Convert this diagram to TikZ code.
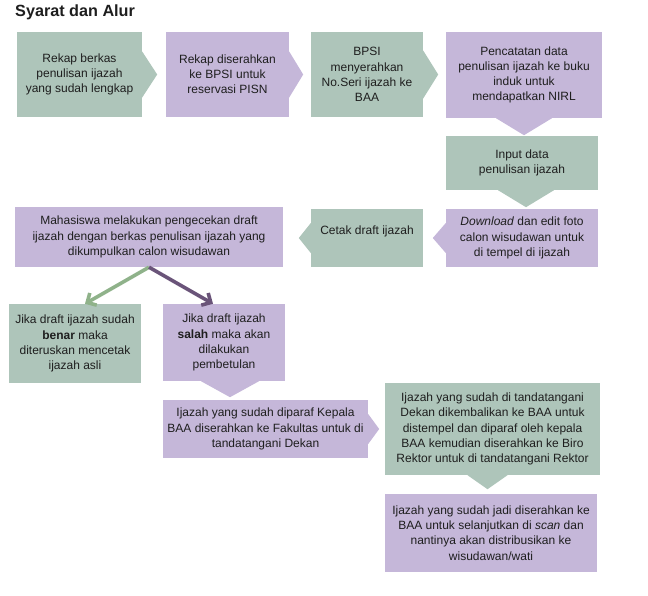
\documentclass[tikz,border=0pt]{standalone}
\usepackage{fontspec}
\setmainfont{Liberation Sans}
\usetikzlibrary{arrows.meta,positioning}
\definecolor{hijau}{HTML}{AEC5BA}
\definecolor{ungu}{HTML}{C5B7D9}
\definecolor{panahhijau}{HTML}{8FB28A}
\definecolor{panahungu}{HTML}{6A5479}
\definecolor{teks}{HTML}{1E1E1E}
\tikzstyle{kotak}=[inner sep=0pt,align=center,text=teks,font=\fontsize{12}{15.2}\selectfont]
\tikzstyle{langkahhijau}=[kotak,fill=hijau]
\tikzstyle{langkahungu}=[kotak,fill=ungu]
\tikzstyle{panah}=[line width=3.6pt,-{Straight Barb[length=7pt,width=14pt]}]

\begin{document}
\begin{tikzpicture}[x=1pt,y=-1pt]
            \useasboundingbox (0,0) rectangle (648,595);
            \node (judul) [anchor=base west,inner sep=0pt,font=\fontsize{16.2}{19}\selectfont\bfseries,text=teks] at (15,16) {Syarat dan Alur};

            % baris atas
            \node (rekap) [langkahhijau,minimum width=125,minimum height=85] at (79.5,74.5) {Rekap berkas\\penulisan ijazah\\yang sudah lengkap};
            \node (serah) [langkahungu,minimum width=123,minimum height=85] at (227.5,74.5) {Rekap diserahkan\\ke BPSI untuk\\reservasi PISN};
            \node (bpsi) [langkahhijau,minimum width=112,minimum height=85] at (367,74.5) {BPSI\\menyerahkan\\No.Seri ijazah ke\\BAA};
            \node (catat) [langkahungu,minimum width=156,minimum height=86] at (524,75) {Pencatatan data\\penulisan ijazah ke buku\\induk untuk\\mendapatkan NIRL};
            \fill[hijau] (rekap.east) ++(0,-23) -- ++(15,23) -- ++(-15,23) -- cycle;
            \fill[ungu] (serah.east) ++(0,-23) -- ++(14,23) -- ++(-14,23) -- cycle;
            \fill[hijau] (bpsi.east) ++(0,-24) -- ++(15,24) -- ++(-15,24) -- cycle;
            \fill[ungu] (catat.south) ++(-28,0) -- ++(28,17) -- ++(28,-17) -- cycle;

            % kolom kanan
            \node (input) [langkahhijau,minimum width=152,minimum height=54] at (522,163) {Input data\\penulisan ijazah};
            \node (unduh) [langkahungu,minimum width=152,minimum height=58] at (522,238) {\textit{Download} dan edit foto\\calon wisudawan untuk\\di tempel di ijazah};
            \fill[hijau] ([xshift=4pt]input.south) ++(-28,0) -- ++(28,17) -- ++(28,-17) -- cycle;
            \fill[ungu] (unduh.west) ++(0,-15) -- ++(-13,15) -- ++(13,15) -- cycle;

            % baris tengah
            \node (cetak) [langkahhijau,minimum width=112,minimum height=58] at (367,238) {Cetak draft ijazah\\ \mbox{}};
            \fill[hijau] (cetak.west) ++(0,-15) -- ++(-12,15) -- ++(12,15) -- cycle;
            \node (cek) [langkahungu,minimum width=268,minimum height=60] at (149,237) {Mahasiswa melakukan pengecekan draft\\ijazah dengan berkas penulisan ijazah yang\\dikumpulkan calon wisudawan};

            % hasil pengecekan
            \node (benar) [langkahhijau,minimum width=132,minimum height=79] at (75,343.5) {Jika draft ijazah sudah\\\textbf{benar} maka\\diteruskan mencetak\\ijazah asli};
            \node (salah) [langkahungu,minimum width=122,minimum height=77] at (224,342.5) {Jika draft ijazah\\\textbf{salah} maka akan\\dilakukan\\pembetulan};
            \fill[ungu] ([xshift=6pt]salah.south) ++(-29,0) -- ++(29,16) -- ++(29,-16) -- cycle;

            \draw[panah,draw=panahhijau] (cek.south) -- ([xshift=10pt]benar.north);
            \draw[panah,draw=panahungu] (cek.south) -- ([xshift=-11pt]salah.north);

            % tanda tangan
            \node (paraf) [langkahungu,minimum width=205,minimum height=58] at (265.5,429) {Ijazah yang sudah diparaf Kepala\\BAA diserahkan ke Fakultas untuk di\\tandatangani Dekan};
            \fill[ungu] (paraf.east) ++(0,-15) -- ++(11,15) -- ++(-11,15) -- cycle;
            \node (dekan) [langkahhijau,minimum width=215,minimum height=92] at (492.5,429) {Ijazah yang sudah di tandatangani\\Dekan dikembalikan ke BAA untuk\\distempel dan diparaf oleh kepala\\BAA kemudian diserahkan ke Biro\\Rektor untuk di tandatangani Rektor};
            \fill[hijau] ([xshift=-5pt]dekan.south) ++(-20,0) -- ++(20,14) -- ++(20,-14) -- cycle;
            \node (jadi) [langkahungu,minimum width=212,minimum height=78] at (491,533) {Ijazah yang sudah jadi diserahkan ke\\BAA untuk selanjutkan di \textit{scan} dan\\nantinya akan distribusikan ke\\wisudawan/wati};
\end{tikzpicture}
\end{document}
